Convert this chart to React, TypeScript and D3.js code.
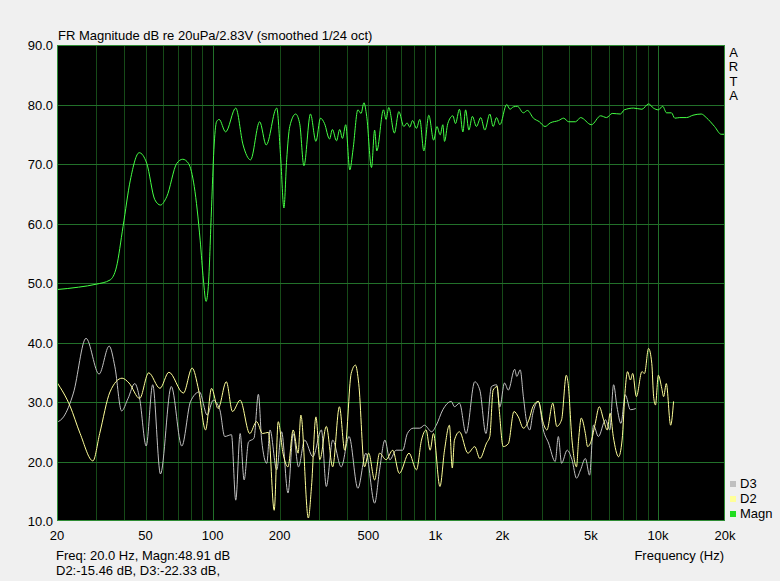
import * as d3 from 'd3';
import React, { useEffect, useRef } from 'react';

// Magnitude response (Hz, dB)
const magnFreq = [20, 25, 30, 34.6, 37, 39.6, 42.7, 46.8, 50.6, 55, 58.3, 62.2, 69, 73.4, 77.9, 82.7, 87.9, 90.9, 93.4, 95.6, 98.9, 101.3, 104.1, 106.9, 114.4, 127, 137, 148, 162.6, 174, 194, 202, 209, 215, 222, 236, 246, 257, 275, 291, 305, 318, 335, 345, 360, 372, 383, 396, 413, 427, 449, 464, 478, 492, 517, 534, 546, 585, 601, 618, 655, 686, 722, 747, 768, 790, 823, 852, 888, 935, 983, 1017, 1052, 1081, 1100, 1138, 1199, 1232, 1284, 1330, 1368, 1415, 1467, 1530, 1600, 1669, 1757, 1819, 1884, 1950, 2092, 2165, 2241, 2337, 2486, 2592, 2758, 2934, 3111, 3280, 3576, 3769, 3973, 4263, 4493, 5022, 5526, 5877, 6228, 6779, 7062, 7770, 8471, 9071, 9540, 10040, 10496, 10930, 11500, 11900, 12530, 13420, 14360, 15650, 16480, 17950, 19220, 20000];
const magnDb = [48.9, 49.3, 49.8, 50.5, 52.7, 59.5, 67.3, 71.9, 70.1, 64.0, 63.1, 64.5, 70.1, 70.8, 70.1, 66.2, 57.2, 50.5, 46.9, 49.4, 62.8, 72.4, 77.1, 77.5, 75.4, 79.4, 73.2, 70.7, 77.1, 73.2, 79.4, 71.2, 62.6, 70.7, 76.3, 78.4, 76.8, 69.7, 78.4, 73.8, 77.7, 76.8, 74.2, 75.8, 73.9, 75.8, 74.3, 76.6, 69.0, 72.4, 79.1, 78.5, 80.3, 78.0, 69.4, 75.7, 72.2, 79.1, 77.5, 79.5, 75.2, 78.8, 76.3, 76.9, 76.2, 77.3, 76.0, 77.5, 72.2, 78.2, 74.0, 76.3, 74.9, 76.6, 73.8, 76.8, 78.1, 76.8, 79.2, 75.4, 79.1, 75.7, 78.0, 76.3, 77.8, 75.7, 78.4, 76.3, 77.8, 76.6, 80.0, 79.2, 79.6, 79.7, 78.6, 79.0, 77.7, 77.1, 76.3, 76.9, 77.3, 77.7, 77.1, 77.1, 77.8, 76.6, 78.1, 77.8, 78.5, 78.4, 79.1, 79.4, 79.2, 80.1, 79.4, 79.1, 79.7, 78.6, 78.6, 77.7, 77.8, 77.8, 78.2, 78.4, 77.8, 76.3, 75.0, 75.0];

// 2nd harmonic distortion
const d2Freq = [20, 22.9, 25.4, 29.0, 31.1, 34.6, 39.2, 42.1, 47.0, 51.6, 58.0, 63.6, 73.9, 80.9, 86.5, 92.9, 98.9, 105.8, 115.2, 122.8, 132.9, 146.8, 157.5, 167.6, 178, 189, 197, 207, 218, 230, 242, 249, 269, 278, 291, 303, 324, 346, 371, 392, 419, 438, 453, 481, 502, 534, 562, 601, 644, 689, 762, 823, 867, 909, 948, 981, 1049, 1100, 1157, 1192, 1219, 1284, 1401, 1504, 1585, 1699, 1757, 1819, 1896, 1935, 2018, 2128, 2256, 2360, 2486, 2650, 2742, 2905, 3057, 3170, 3370, 3512, 3690, 3875, 3950, 4110, 4306, 4400, 4525, 4720, 4830, 5030, 5228, 5450, 5700, 5917, 6100, 6300, 6655, 6900, 7133, 7300, 7520, 7700, 8000, 8471, 8700, 9071, 9380, 9560, 9744, 10040, 10400, 10600, 10900, 11400, 11750];
const d2Db = [33.3, 29.3, 24.7, 20.1, 24.7, 31.7, 34.0, 33.2, 30.6, 34.9, 32.3, 35.0, 31.5, 35.7, 32.0, 25.3, 32.3, 28.9, 33.4, 28.4, 30.3, 24.7, 26.7, 24.7, 24.9, 11.8, 26.7, 21.4, 19.1, 25.3, 21.4, 27.8, 10.5, 15.8, 27.5, 20.3, 25.9, 19.1, 29.2, 21.9, 34.8, 36.2, 33.1, 19.1, 21.4, 16.9, 21.4, 20.3, 21.9, 18.0, 21.4, 18.6, 23.6, 25.3, 21.9, 24.7, 15.8, 21.9, 26.1, 18.9, 23.6, 25.0, 21.4, 22.5, 20.5, 23.1, 24.2, 32.0, 32.6, 28.9, 22.5, 23.0, 28.4, 27.5, 25.6, 27.3, 29.2, 30.1, 26.4, 25.3, 29.8, 25.9, 27.0, 34.5, 33.1, 23.6, 19.1, 23.6, 27.3, 24.7, 22.5, 23.6, 26.4, 29.2, 27.0, 25.3, 28.1, 24.2, 20.8, 23.6, 32.3, 35.1, 33.7, 34.8, 30.9, 35.1, 34.8, 39.0, 36.5, 30.9, 29.5, 34.5, 32.3, 30.9, 33.1, 26.1, 30.1];

// 3rd harmonic distortion
const d3Freq = [20, 21.4, 23.7, 27.0, 30.9, 34.3, 36.4, 39.0, 41.7, 44.7, 47.0, 50.3, 53.8, 58.3, 65.2, 72.7, 79.6, 87.3, 94.5, 100.5, 107.7, 113.3, 121.5, 127, 132.9, 138.5, 145, 153.3, 160.5, 166, 175, 181, 194, 204, 218, 230, 243, 259, 282, 308, 324, 346, 378, 410, 449, 488, 534, 562, 594, 625, 667, 714, 749, 796, 852, 894, 963, 1010, 1081, 1180, 1219, 1284, 1375, 1504, 1585, 1688, 1788, 1884, 1950, 2045, 2128, 2272, 2322, 2406, 2486, 2570, 2656, 2742, 2905, 3057, 3225, 3455, 3569, 3690, 3910, 4110, 4306, 4490, 4720, 4930, 5133, 5400, 5814, 6073, 6320, 6544, 6820, 7133, 7520, 7950];
const d3Db = [26.6, 27.5, 31.5, 40.7, 34.7, 39.4, 35.9, 28.5, 30.6, 33.1, 30.6, 22.6, 32.9, 17.9, 32.6, 22.6, 30.1, 31.7, 27.8, 30.3, 28.7, 24.2, 24.5, 13.5, 24.7, 16.9, 23.3, 23.9, 31.3, 23.6, 19.7, 25.3, 18.6, 25.0, 14.7, 24.7, 19.1, 23.6, 20.8, 25.3, 15.8, 23.6, 19.1, 24.2, 15.5, 21.4, 13.0, 18.6, 23.6, 20.3, 21.9, 21.9, 24.7, 25.6, 25.6, 26.1, 25.0, 26.1, 28.7, 30.1, 29.2, 29.8, 24.7, 33.4, 32.0, 24.7, 32.6, 32.9, 29.2, 33.2, 32.0, 35.5, 34.3, 35.4, 30.9, 26.7, 25.3, 28.1, 30.1, 25.3, 23.1, 20.0, 24.2, 19.7, 21.9, 20.3, 17.2, 18.6, 20.5, 17.7, 26.1, 24.2, 27.0, 25.3, 32.9, 29.2, 26.4, 31.2, 28.7, 28.9];

const xTickValues = [20, 50, 100, 200, 500, 1000, 2000, 5000, 10000, 20000];
const xTickLabels = ['20', '50', '100', '200', '500', '1k', '2k', '5k', '10k', '20k'];
const yTickValues = [10, 20, 30, 40, 50, 60, 70, 80, 90];

const legendNames = ['D3', 'D2', 'Magn'];
const legendColors = ['#c0c0c0', '#ffff99', '#22dd22'];

const W = 780;
const H = 581;
const FONT = "'Liberation Sans', Arial, sans-serif";

const App = () => {
  const ref = useRef<SVGSVGElement>(null);

  useEffect(() => {
    const svg = d3.select(ref.current);
    svg.selectAll('*').remove();

    const left = 57;
    const right = 725;
    const top = 45;
    const bottom = 521;

    const x = d3.scaleLog().domain([20, 20000]).range([left, right]);
    const y = d3.scaleLinear().domain([10, 90]).range([bottom, top]);

    svg.append('rect').attr('width', W).attr('height', H).attr('fill', '#f0f0f0');
    svg
      .append('rect')
      .attr('x', left)
      .attr('y', top)
      .attr('width', right - left)
      .attr('height', bottom - top)
      .attr('fill', '#000');

    // vertical grid: every 1-2-3..9 step of each decade
    const minor: number[] = [];
    [10, 100, 1000, 10000].forEach((dec) => {
      for (let k = 1; k <= 9; k++) {
        const f = dec * k;
        if (f > 20 && f < 20000) minor.push(f);
      }
    });
    svg
      .append('g')
      .selectAll('line')
      .data(minor)
      .join('line')
      .attr('x1', (d) => Math.round(x(d)) + 0.5)
      .attr('x2', (d) => Math.round(x(d)) + 0.5)
      .attr('y1', top)
      .attr('y2', bottom)
      .attr('stroke', (d) => ([100, 1000, 10000].includes(d) ? '#22702a' : '#164a18'))
      .attr('stroke-width', 1);

    svg
      .append('g')
      .selectAll('line')
      .data(yTickValues.slice(1, -1))
      .join('line')
      .attr('x1', left)
      .attr('x2', right)
      .attr('y1', (d) => Math.round(y(d)) + 0.5)
      .attr('y2', (d) => Math.round(y(d)) + 0.5)
      .attr('stroke', '#22702a')
      .attr('stroke-width', 1);

    const line = (fs: number[], vs: number[]) =>
      d3
        .line<number>()
        .x((_, i) => x(fs[i]))
        .y((d) => y(d))
        .curve(d3.curveMonotoneX)(vs);

    svg
      .append('path')
      .attr('d', line(d3Freq, d3Db))
      .attr('fill', 'none')
      .attr('stroke', '#c0c0c0')
      .attr('stroke-width', 1);
    svg
      .append('path')
      .attr('d', line(d2Freq, d2Db))
      .attr('fill', 'none')
      .attr('stroke', '#ffff99')
      .attr('stroke-width', 1);
    svg
      .append('path')
      .attr('d', line(magnFreq, magnDb))
      .attr('fill', 'none')
      .attr('stroke', '#44ff44')
      .attr('stroke-width', 1);

    // frame
    svg
      .append('rect')
      .attr('x', left + 0.5)
      .attr('y', top + 0.5)
      .attr('width', right - left - 1)
      .attr('height', bottom - top - 1)
      .attr('fill', 'none')
      .attr('stroke', '#2e8c34');

    const text = (s: string, tx: number, ty: number, anchor = 'start') =>
      svg
        .append('text')
        .attr('x', tx)
        .attr('y', ty)
        .attr('text-anchor', anchor)
        .attr('font-family', FONT)
        .attr('font-size', 13)
        .attr('fill', '#000')
        .text(s);

    text('FR Magnitude dB re 20uPa/2.83V (smoothed 1/24 oct)', 58, 40);

    yTickValues.forEach((v) => text(v.toFixed(1), 53, y(v) + 5, 'end'));
    xTickValues.forEach((v, i) => text(xTickLabels[i], x(v), 540, 'middle'));

    text('Frequency (Hz)', 724, 560, 'end');
    text('Freq: 20.0 Hz, Magn:48.91 dB', 56, 560);
    text('D2:-15.46 dB, D3:-22.33 dB,', 56, 575);

    ['A', 'R', 'T', 'A'].forEach((c, i) => text(c, 733.5, 57 + i * 14.3, 'middle'));

    legendNames.forEach((n, i) => {
      svg
        .append('rect')
        .attr('x', 730)
        .attr('y', 481 + i * 15)
        .attr('width', 6)
        .attr('height', 6)
        .attr('fill', legendColors[i]);
      text(n, 740, 488 + i * 15);
    });
  }, []);

  return (
    <svg
      ref={ref}
      width={W}
      height={H}
      style={{ position: 'absolute', left: 0, top: 0, display: 'block' }}
    />
  );
};

export default App;
